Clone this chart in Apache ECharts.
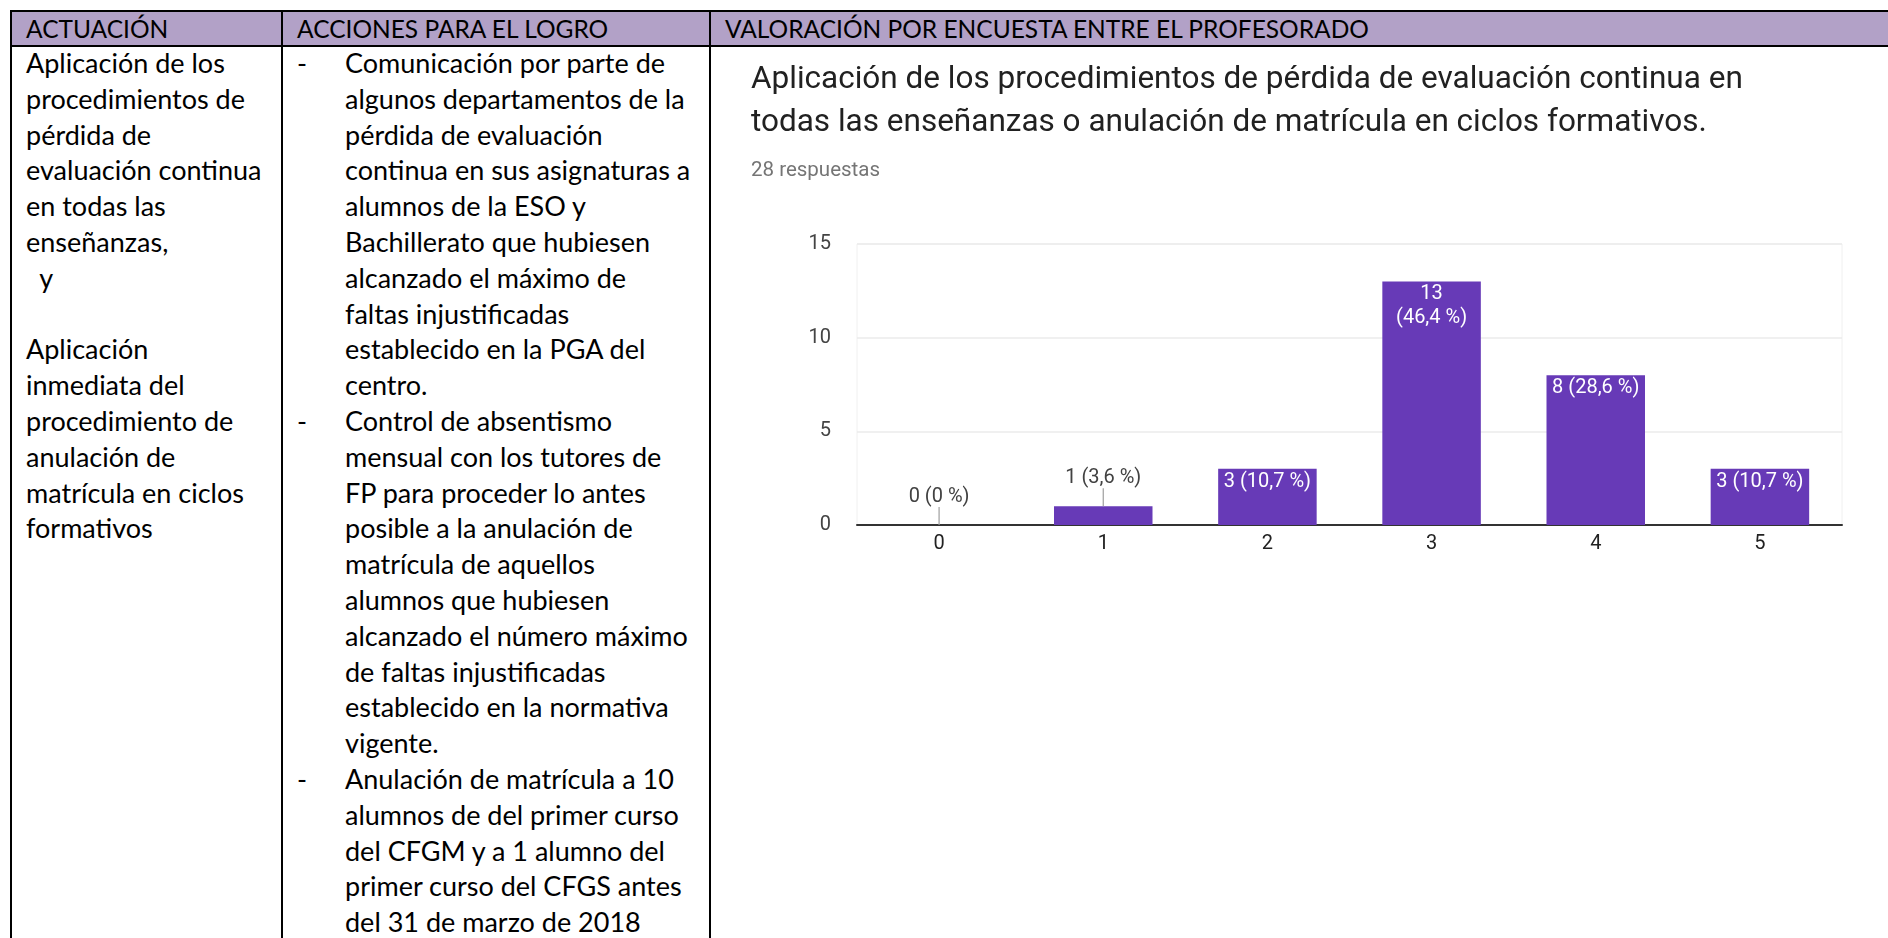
<!DOCTYPE html>
<html>
<head>
<meta charset="utf-8">
<script src="https://cdn.jsdelivr.net/npm/echarts@6/dist/echarts.min.js"></script>
<style>
  html, body { margin:0; padding:0; background:#fff; width:1888px; height:938px; overflow:hidden; }
  #page { position:relative; width:1888px; height:938px; font-family: Lato, "Open Sans", sans-serif; color:#000; }
  .ln { position:absolute; background:#000; }
  .hdr { position:absolute; top:12px; left:12px; right:0; height:33px; background:#b2a1c7; }
  .htxt { position:absolute; top:12px; height:33px; line-height:33px; font-size:24.5px; white-space:nowrap; }
  .col { position:absolute; top:45px; font-size:27px; line-height:35.8px; white-space:pre; }
  .row { height:35.8px; position:relative; }
  .dash { position:absolute; left:-48px; }
  #chart { position:absolute; left:0; top:0; width:1888px; height:938px; }
</style>
</head>
<body>
<div id="page">
  <div class="hdr"></div>
  <div class="ln" style="top:10px;left:10px;right:0;height:2px"></div>
  <div class="ln" style="top:45px;left:10px;right:0;height:2px"></div>
  <div class="ln" style="top:10px;bottom:0;left:10px;width:2px"></div>
  <div class="ln" style="top:10px;bottom:0;left:281px;width:2px"></div>
  <div class="ln" style="top:10px;bottom:0;left:709px;width:2px"></div>
  <div id="h1" class="htxt" style="left:26px"></div>
  <div id="h2" class="htxt" style="left:297px"></div>
  <div id="h3" class="htxt" style="left:725px"></div>
  <div id="c1" class="col" style="left:26px"></div>
  <div id="c2" class="col" style="left:345px"></div>
  <div id="chart"></div>
</div>
<script>
// ---- table text ----
const headers = ['ACTUACIÓN', 'ACCIONES PARA EL LOGRO', 'VALORACIÓN POR ENCUESTA ENTRE EL PROFESORADO'];
const actuacionLines = ['Aplicación de los', 'procedimientos de', 'pérdida de', 'evaluación continua', 'en todas las', 'enseñanzas,', '  y', '', 'Aplicación', 'inmediata del', 'procedimiento de', 'anulación de', 'matrícula en ciclos', 'formativos'];
const accion1 = ['Comunicación por parte de', 'algunos departamentos de la', 'pérdida de evaluación', 'continua en sus asignaturas a', 'alumnos de la ESO y', 'Bachillerato que hubiesen', 'alcanzado el máximo de', 'faltas injustificadas', 'establecido en la PGA del', 'centro.'];
const accion2 = ['Control de absentismo', 'mensual con los tutores de', 'FP para proceder lo antes', 'posible a la anulación de', 'matrícula de aquellos', 'alumnos que hubiesen', 'alcanzado el número máximo', 'de faltas injustificadas', 'establecido en la normativa', 'vigente.'];
const accion3 = ['Anulación de matrícula a 10', 'alumnos de del primer curso', 'del CFGM y a 1 alumno del', 'primer curso del CFGS antes', 'del 31 de marzo de 2018'];

// ---- chart data ----
const chartTitle = ['Aplicación de los procedimientos de pérdida de evaluación continua en', 'todas las enseñanzas o anulación de matrícula en ciclos formativos.'];
const responses = '28 respuestas';
const categories = ['0', '1', '2', '3', '4', '5'];
const counts = [0, 1, 3, 13, 8, 3];
const barLabels = ['0 (0 %)', '1 (3,6 %)', '3 (10,7 %)', '13\n(46,4 %)', '8 (28,6 %)', '3 (10,7 %)'];
const yMin = 0, yMax = 15, yInterval = 5;

// ---- build table ----
document.getElementById('h1').textContent = headers[0];
document.getElementById('h2').textContent = headers[1];
document.getElementById('h3').textContent = headers[2];
function addRow(parent, text, dash) {
  const d = document.createElement('div');
  d.className = 'row';
  d.textContent = text;
  if (dash) { const s = document.createElement('span'); s.className = 'dash'; s.textContent = '-'; d.appendChild(s); }
  parent.appendChild(d);
}
const c1 = document.getElementById('c1');
actuacionLines.forEach(t => addRow(c1, t, false));
const c2 = document.getElementById('c2');
[accion1, accion2, accion3].forEach(block => block.forEach((t, i) => addRow(c2, t, i === 0)));

// ---- chart ----
const chart = echarts.init(document.getElementById('chart'), null, { renderer: 'canvas' });
const INSIDE_MIN = 3;
const labelFont = { fontFamily: 'Roboto', fontSize: 20 };
chart.setOption({
  animation: false,
  title: {
    text: chartTitle.join('\n'),
    subtext: responses,
    left: 746, top: 54,
    itemGap: 14,
    textStyle: { fontFamily: 'Roboto', fontSize: 31.5, fontWeight: 'normal', color: '#212121', lineHeight: 43 },
    subtextStyle: { fontFamily: 'Roboto', fontSize: 20.5, color: '#757575', lineHeight: 24 }
  },
  grid: { left: 857, right: 46, top: 244, bottom: 413, show: true, borderColor: '#f0f0f0', borderWidth: 1 },
  xAxis: {
    type: 'category', data: categories,
    axisLine: { lineStyle: { color: '#333', width: 2 } },
    axisTick: { show: false },
    axisLabel: Object.assign({ color: '#222', margin: 9 }, labelFont)
  },
  yAxis: {
    type: 'value', min: yMin, max: yMax, interval: yInterval,
    axisLine: { show: false }, axisTick: { show: false },
    axisLabel: Object.assign({ color: '#444', margin: 26 }, labelFont),
    splitLine: { lineStyle: { color: '#ebebeb', width: 1.5 } }
  },
  series: [
    {
      type: 'bar',
      barWidth: '60%',
      itemStyle: { color: '#673ab7' },
      data: counts.map((v, i) => ({
        value: v,
        label: v >= INSIDE_MIN
          ? Object.assign({ show: true, position: 'insideTop', distance: 1, color: '#ffffff', lineHeight: 23.5, formatter: barLabels[i] }, labelFont)
          : Object.assign({ show: true, position: 'top', distance: 16, color: '#424242', lineHeight: 24, formatter: barLabels[i] }, labelFont)
      }))
    },
    {
      type: 'custom',
      silent: true,
      data: counts.map((v, i) => [i, v]),
      renderItem: function (params, api) {
        const v = api.value(1);
        if (v >= INSIDE_MIN) return null;
        const p = api.coord([api.value(0), v]);
        return { type: 'line', shape: { x1: p[0], y1: p[1], x2: p[0], y2: p[1] - 18 }, style: { stroke: '#9e9e9e', lineWidth: 1.2 } };
      },
      z: 3
    }
  ]
});
</script>
</body>
</html>
